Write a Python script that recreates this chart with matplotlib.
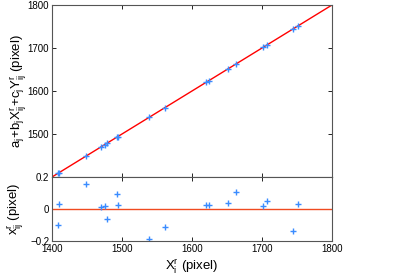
import numpy as np
import matplotlib.pyplot as plt

plt.rcParams['font.family'] = ['Liberation Sans', 'DejaVu Sans']
plt.rcParams['mathtext.fontset'] = 'custom'
plt.rcParams['mathtext.rm'] = 'Liberation Sans'
plt.rcParams['mathtext.it'] = 'Liberation Sans'
plt.rcParams['font.size'] = 7

# Reference x positions and residuals (pixel)
x_ref = np.array([1408.6, 1410, 1448, 1469.5, 1475, 1478, 1493, 1494, 1539, 1561.4,
                  1620, 1624, 1652, 1662.9, 1701.4, 1707, 1744, 1751])
resid = np.array([-0.102, 0.031, 0.156, 0.0125, 0.019, -0.060, 0.094, 0.027, -0.185, -0.115,
                  0.027, 0.027, 0.035, 0.108, 0.021, 0.05, -0.135, 0.031])
fitted = x_ref + resid

line_lim = [1400, 1800]
blue = '#3a8cff'
lab_fs = 9.5

fig = plt.figure(figsize=(3.99, 2.78), dpi=100)
ax1 = fig.add_axes([52/399, 1 - 177/278, 280/399, 172/278])
ax2 = fig.add_axes([52/399, 1 - 241/278, 280/399, 64/278])

ax1.plot(line_lim, line_lim, color='red', lw=1)
ax1.plot(x_ref, fitted, '+', color=blue, ms=4.5, mew=1)
ax1.set_xlim(1400, 1800)
ax1.set_ylim(1400, 1800)
ax1.set_yticks([1500, 1600, 1700, 1800])
ax1.set_xticks([1400, 1500, 1600, 1700, 1800])
ax1.set_xticklabels([])
ax1.set_ylabel(r'$\mathregular{a_j\!+\!b_jX^r_{ij}\!+\!c_jY^r_{ij}}$ (pixel)', fontsize=lab_fs)

ax2.axhline(0, color='#f04a20', lw=1)
ax2.plot(x_ref, resid, '+', color=blue, ms=4.5, mew=1)
ax2.set_xlim(1400, 1800)
ax2.set_ylim(-0.2, 0.2)
ax2.set_yticks([-0.2, 0, 0.2])
ax2.set_yticklabels(['\u22120.2', '0', '0.2'])
ax2.set_xticks([1400, 1500, 1600, 1700, 1800])
ax2.set_xlabel(r'$\mathregular{X^r_i}$ (pixel)', fontsize=lab_fs, labelpad=2)
ax2.set_ylabel(r'$\mathregular{x^r_{ij}}$ (pixel)', fontsize=lab_fs)

for ax in (ax1, ax2):
    ax.tick_params(direction='in', length=3, width=0.6, top=True, right=True, pad=2)
    for s in ax.spines.values():
        s.set_linewidth(0.8)
        s.set_color('#555555')

ax1.yaxis.set_label_coords(-0.085, 0.5)
ax2.yaxis.set_label_coords(-0.096, 0.5)

fig.savefig('out.png', dpi=100)
